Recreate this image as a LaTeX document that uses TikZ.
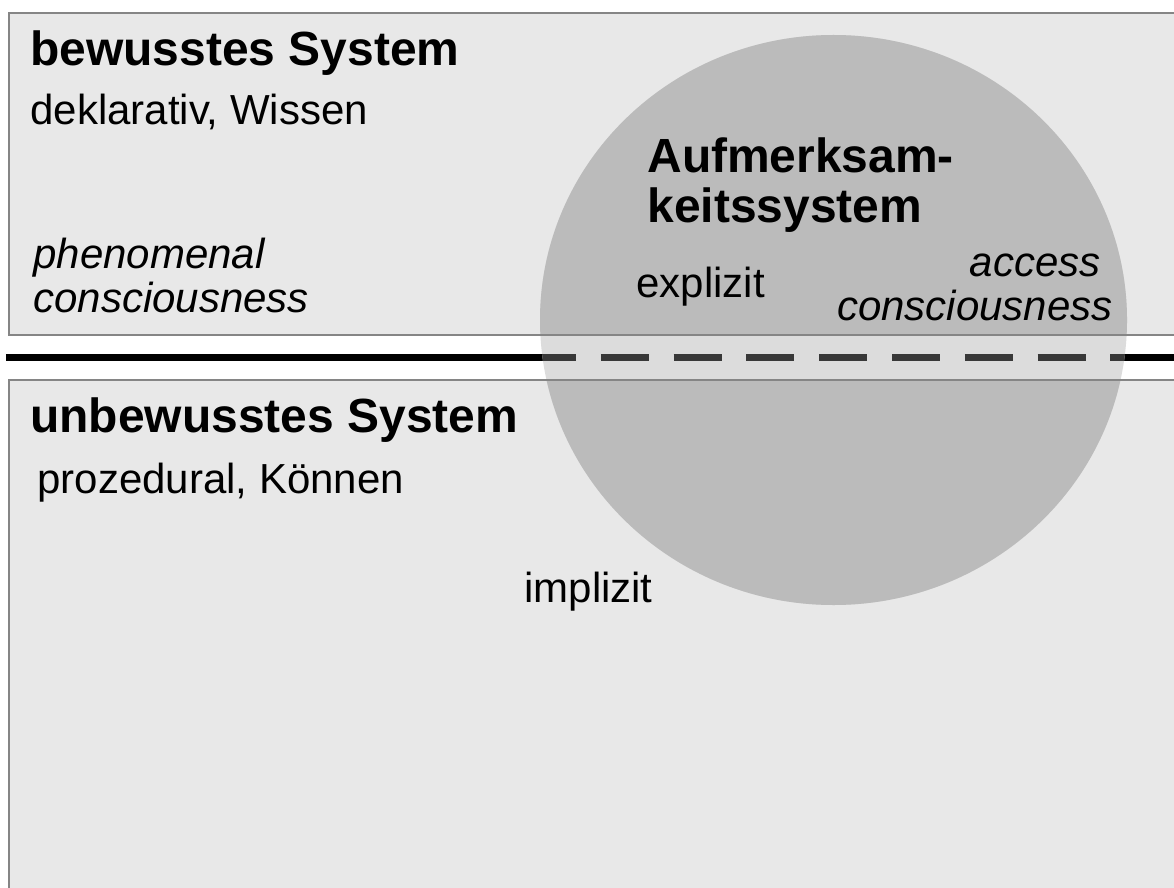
\documentclass[tikz,border=0pt]{standalone}
\usepackage{fontspec}
\setsansfont{Liberation Sans}
\usepackage{xcolor}
\usepackage{tikz}
\usetikzlibrary{positioning}
\definecolor{panel}{HTML}{E8E8E8}
\definecolor{frame}{HTML}{858585}
\definecolor{focus}{HTML}{BBBBBB}
\definecolor{focuslt}{HTML}{DCDCDC}
\definecolor{dashln}{HTML}{383838}
\tikzset{
  every node/.style={font=\sffamily,inner sep=0pt,anchor=base west},
  title/.style={font=\sffamily\fontsize{27.3}{28.5}\selectfont\bfseries,align=left},
  body/.style={font=\sffamily\fontsize{23.9}{25}\selectfont,align=left},
  note/.style={body,font=\sffamily\itshape\fontsize{23.9}{25}\selectfont},
  pane/.style={fill=panel},
  rim/.style={draw=frame,line width=1pt},
  divider/.style={line width=4.5pt,draw=black},
  gapline/.style={line width=4.5pt,draw=dashln,dash pattern=on 0.96cm off 0.496cm},
}

\begin{document}
\begin{tikzpicture}[x=1cm,y=1cm]
\clip (0,0) rectangle (23.48,17.74);
\fill[white] (0,0) rectangle (23.48,17.74);
% the two systems
\fill[pane] (0.18,11.04) rectangle (24,17.48);
\fill[pane] (0.18,-1) rectangle (24,10.14);
\draw[divider] (0.12,10.59) -- (24,10.59);
% attention system
\begin{scope}
  \clip (16.67,11.34) ellipse [x radius=5.87, y radius=5.70];
  \fill[focuslt] (10,5) rectangle (23.48,17.74);
  \fill[focus] (0.18,11.04) rectangle (24,17.48);
  \fill[focus] (0.18,-1) rectangle (24,10.14);
  \draw[gapline] (10.56,10.59) -- (24,10.59);
\end{scope}
\draw[rim] (24,17.48) -- (0.18,17.48) -- (0.18,11.04) -- (24,11.04);
\draw[rim] (24,10.14) -- (0.18,10.14) -- (0.18,-1);
% labels (multi-line nodes sit on their last line)
\node[title] (bw) at (0.6,16.42) {bewusstes System};
\node[body] (dk) at (0.6,15.24) {deklarativ, Wissen};
\node[note] (pc) at (0.66,11.5) {phenomenal\\consciousness};
\node[title] (as) at (12.94,13.28) {Aufmerksam-\\keitssystem};
\node[body] (ex) at (12.72,11.8) {explizit};
\node[note,align=right,anchor=base east] (ac) at (22.26,11.34) {access\hspace*{0.24cm}\\consciousness};
\node[title] (ub) at (0.6,9.1) {unbewusstes System};
\node[body] (pz) at (0.74,7.88) {prozedural, Können};
\node[body] (im) at (10.48,5.7) {implizit};
\end{tikzpicture}
\end{document}
